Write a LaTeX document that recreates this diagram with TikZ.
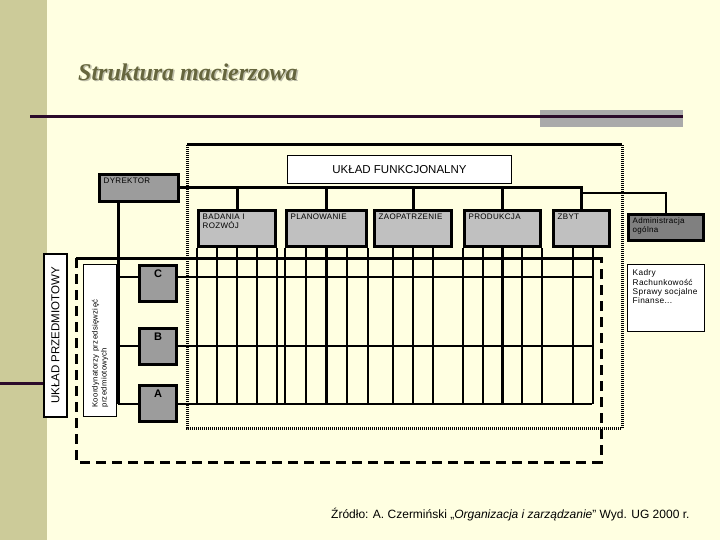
\documentclass[tikz,border=0pt]{standalone}
\usepackage{fontspec}
\setmainfont{Liberation Sans}
\newfontfamily\pixfont[LetterSpace=4]{Liberation Sans}
\newfontfamily\titlefont{Liberation Serif}
\usetikzlibrary{calc}
\definecolor{slidebg}{RGB}{255,255,225}
\definecolor{sidebar}{RGB}{204,203,153}
\definecolor{rulecol}{RGB}{43,11,43}
\definecolor{rulegray}{RGB}{170,170,170}
\definecolor{titlecol}{RGB}{102,102,62}
\definecolor{shadowcol}{RGB}{190,190,170}
\definecolor{funcgray}{RGB}{192,192,192}
\definecolor{dirgray}{RGB}{156,156,156}
\definecolor{admgray}{RGB}{128,128,128}
\tikzset{
  fbox/.style={draw, line width=3pt, fill=funcgray, minimum width=77pt, minimum height=36pt, inner sep=0pt},
  dbox/.style={draw, line width=3pt, fill=dirgray, inner sep=0pt},
  abcbox/.style={draw, line width=3pt, fill=dirgray, minimum width=37pt, minimum height=36pt, inner sep=0pt},
  wbox/.style={draw, line width=1pt, fill=white},
  boxtext/.style={anchor=north west, inner sep=0pt, xshift=5.5pt, yshift=-4.5pt, align=left,
    font=\pixfont\fontsize{8}{9.3}\selectfont},
  abctext/.style={anchor=north, inner sep=0pt, yshift=-6pt, font=\bfseries\fontsize{11}{13}\selectfont},
  bus/.style={line width=3pt},
  gridline/.style={line width=2.2pt},
  thinline/.style={line width=1.2pt},
  dashbox/.style={line width=3pt, dash pattern=on 10pt off 6pt},
  dotbox/.style={line width=3pt, dash pattern=on 1pt off 1pt}
}
\begin{document}
\begin{tikzpicture}[x=1pt, y=-1pt]
  \useasboundingbox (0,0) rectangle (720,540);
  % slide background
  \fill[slidebg] (0,0) rectangle (720,540);
  \fill[sidebar] (0,0) rectangle (47,540);
  \fill[rulegray] (540,110) rectangle (683,127);
  \draw[rulecol, line width=3pt] (30,117) -- (683,117);
  \draw[rulecol, line width=3pt] (0,383) -- (44,383);
  \node[shadowcol, anchor=west, inner sep=0pt, font=\titlefont\bfseries\itshape\fontsize{24}{28}\selectfont]
    (titleshadow) at (79.5,73.5) {Struktura macierzowa};
  \node[titlecol, anchor=west, inner sep=0pt, font=\titlefont\bfseries\itshape\fontsize{24}{28}\selectfont]
    (title) at (78,72) {Struktura macierzowa};

  % frames
  \draw[dashbox] (76,258) rectangle (601,462);

  % function boxes
  \node[fbox, label={[boxtext]north west:{BADANIA I\\ROZWÓJ}}] (bad) at (237,228.5) {};
  \node[fbox, minimum width=80pt, label={[boxtext]north west:PLANOWANIE}] (plan) at (326.5,228.5) {};
  \node[fbox, label={[boxtext]north west:ZAOPATRZENIE}] (zaop) at (413,228.5) {};
  \node[fbox, minimum width=76pt, label={[boxtext]north west:PRODUKCJA}] (prod) at (502.5,228.5) {};
  \node[fbox, minimum width=56pt, label={[boxtext]north west:ZBYT}] (zbyt) at (581.5,228.5) {};
  \node[dbox, minimum width=79pt, minimum height=27pt, label={[boxtext]north west:DYREKTOR}] (dyr) at (139,188) {};
  \node[dbox, fill=admgray, minimum width=75pt, minimum height=26pt,
    label={[boxtext]north west:{Administracja\\ogólna}}] (adm) at (666,227.5) {};
  \node[wbox, minimum width=77pt, minimum height=67pt,
    label={[boxtext, yshift=-1pt, font=\pixfont\fontsize{8.3}{9.3}\selectfont]north west:{Kadry\\Rachunkowość\\Sprawy socjalne\\Finanse...}}] (kadry) at (666,298) {};
  \node[wbox, minimum width=224pt, minimum height=28pt, font=\fontsize{11.5}{13}\selectfont] (funk) at (399.5,169.5) {UKŁAD FUNKCJONALNY};

  % grid of rows and columns
  \coordinate (rowC) at (118,277);
  \coordinate (rowB) at (118,346);
  \coordinate (rowA) at (118,404);
  \coordinate (endC) at (592,277);
  \coordinate (endB) at (592,346);
  \coordinate (endA) at (592,404);
  \foreach \r in {C,B,A}
    \draw[gridline] (row\r) -- (end\r);
  \foreach \b/\fl in {bad/{0,0.25,0.5,0.75,1}, plan/{0,0.25,0.5,0.75,1}, zaop/{0.25,0.5,0.75},
      prod/{0,0.25,0.5,0.75,1}, zbyt/{0.35,0.69}}
    \foreach \f in \fl {
      \path ($(\b.south west)!\f!(\b.south east)$) coordinate (v);
      \draw[gridline] (v) -- (v |- rowA);
    }
  \draw[dashbox] (76,258) -- (601,258);

  % connectors
  \draw[bus] (dyr.east) -- (dyr.east -| zbyt.north) -- (zbyt.north);
  \foreach \b in {bad,plan,zaop,prod}
    \draw[bus] (\b.north) -- (\b.north |- dyr.east);
  \coordinate (admbr) at (581.5,193);
  \draw[thinline] (admbr) -| (adm.north);
  \draw[bus] ([xshift=-21pt]dyr.south) -- (rowA);

  % product boxes
  \node[abcbox, label={[abctext]north:C}] (c) at (158,283.5) {};
  \node[abcbox, label={[abctext]north:B}] (b) at (158,346) {};
  \node[abcbox, label={[abctext]north:A}] (a) at (158,403.5) {};
  \node[wbox, rotate=90, minimum width=152pt, minimum height=33pt, text width=134pt, align=left,
    inner xsep=9pt, inner ysep=0pt, font=\pixfont\fontsize{7.7}{9}\selectfont]
    (koord) at (100,340.5) {Koordynatorzy przedsięwzięć\\przedmiotowych};
  \node[wbox, line width=2pt, rotate=90, minimum width=163pt, minimum height=23pt, inner sep=0pt,
    font=\fontsize{11.5}{13}\selectfont] (przed) at (55.5,335.5) {UKŁAD PRZEDMIOTOWY};

  % functional frame
  \draw[dotbox] (187,145) -- (187,428) -- (622,428) -- (622,145);
  \draw[bus] (187,145) -- (622,145);

  \node[anchor=west, inner sep=0pt, font=\fontsize{12}{14}\selectfont] (zrodlo) at (331,515)
    {Źródło: A. Czermiński „\textit{Organizacja i zarządzanie}” Wyd. UG 2000 r.};
\end{tikzpicture}
\end{document}
